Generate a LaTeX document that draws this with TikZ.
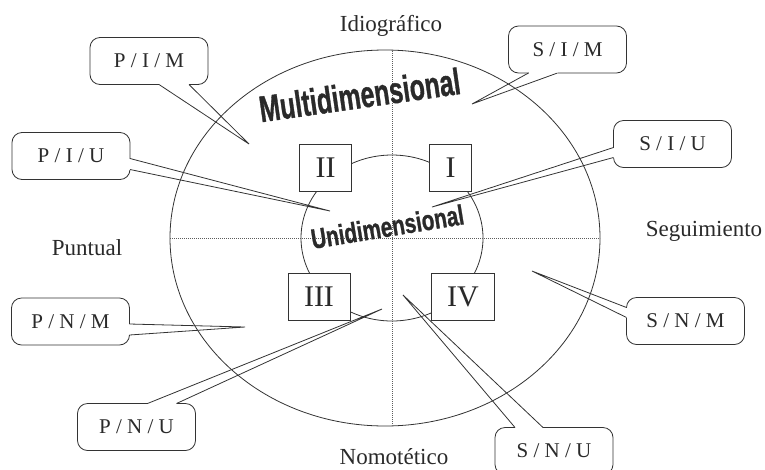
\documentclass[tikz,border=0pt]{standalone}
\usepackage{fontspec}
\setmainfont{Liberation Serif}
\newfontfamily\wordart{Liberation Sans}[BoldFeatures={FakeBold=1.2}]
\usetikzlibrary{calc}
\definecolor{qline}{HTML}{333333}
\definecolor{qtext}{HTML}{2A2A2A}

\begin{document}
\begin{tikzpicture}[x=1pt, y=-1pt,
  ring/.style={draw=qline, line width=0.8pt},
  axis/.style={draw=qline!80, line width=0.6pt, dash pattern=on 0.7pt off 1.3pt},
  bubble/.style={draw=qline, fill=white, line width=0.8pt, rounded corners=10pt, minimum width=118pt, minimum height=47pt, outer sep=0pt, text=qtext, font=\fontsize{21}{21}\selectfont},
  quad/.style={draw=qline, fill=white, line width=0.8pt, minimum height=47pt, inner xsep=16pt, outer sep=0pt, text=qtext, font=\fontsize{30}{30}\selectfont},
  pole/.style={text=qtext, anchor=base, font=\fontsize{23}{23}\selectfont},
  art/.style={text=qtext, anchor=base, inner sep=0pt},
  gap/.style={white, line width=2.5pt},
  wedge/.style={draw=qline, line width=0.8pt, line join=miter},
]
  \useasboundingbox (0,0) rectangle (765,469);

  % circles and axes
  \draw[ring] (385,238) ellipse [x radius=215pt, y radius=188pt];
  \draw[ring] (392,238) ellipse [x radius=91pt, y radius=83pt];
  \draw[axis] (170,238.5) -- (600,238.5);
  \draw[axis] (392,51) -- (392,425);

  % quadrants
  \node[quad] (q2) at (325.5,167.5) {II};
  \node[quad] (q1) at (450.5,167.5) {I};
  \node[quad] (q3) at (319,297) {III};
  \node[quad] (q4) at (463,297) {IV};

  % poles
  \node[pole] (idio) at (391,31) {Idiográfico};
  \node[pole] (nomo) at (394,464) {Nomotético};
  \node[pole] (punt) at (87,255) {Puntual};
  \node[pole] (segu) at (704,236) {Seguimiento};

  % word art
  \node[art, rotate=8.1, font=\wordart\bfseries\fontsize{37}{37}\selectfont] (multi) at (361.5,108) {\scalebox{0.67}[1]{Multidimensional}};
  \node[art, rotate=9.3, font=\wordart\bfseries\fontsize{28}{28}\selectfont] (uni) at (389,236.5) {\scalebox{0.74}[1]{Unidimensional}};

  % callouts
  \node[bubble] (pim) at (149,61) {P / I / M};
  \coordinate (pim tip) at (249,144);
  \draw[gap] ($(pim.south west)+(69,0)$) -- ($(pim.south west)+(99,0)$);
  \draw[wedge] ($(pim.south west)+(69,0)$) -- (pim tip) -- ($(pim.south west)+(99,0)$);

  \node[bubble] (piu) at (71,156) {P / I / U};
  \coordinate (piu tip) at (330,211);
  \draw[gap] ($(piu.north east)+(0,26)$) -- ($(piu.north east)+(0,37)$);
  \draw[wedge] ($(piu.north east)+(0,26)$) -- (piu tip) -- ($(piu.north east)+(0,37)$);

  \node[bubble] (sim) at (567.5,49.5) {S / I / M};
  \coordinate (sim tip) at (472,104);
  \draw[gap] ($(sim.south west)+(20,0)$) -- ($(sim.south west)+(49,0)$);
  \draw[wedge] ($(sim.south west)+(20,0)$) -- (sim tip) -- ($(sim.south west)+(49,0)$);

  \node[bubble] (siu) at (672.5,144) {S / I / U};
  \coordinate (siu tip) at (432,207);
  \draw[gap] ($(siu.north west)+(0,27)$) -- ($(siu.north west)+(0,37)$);
  \draw[wedge] ($(siu.north west)+(0,27)$) -- (siu tip) -- ($(siu.north west)+(0,37)$);

  \node[bubble] (pnm) at (70.5,321.5) {P / N / M};
  \coordinate (pnm tip) at (245,327);
  \draw[gap] ($(pnm.north east)+(0,26)$) -- ($(pnm.north east)+(0,37)$);
  \draw[wedge] ($(pnm.north east)+(0,26)$) -- (pnm tip) -- ($(pnm.north east)+(0,37)$);

  \node[bubble] (pnu) at (136.5,427) {P / N / U};
  \coordinate (pnu tip) at (382,309);
  \draw[gap] ($(pnu.north west)+(70,0)$) -- ($(pnu.north west)+(99,0)$);
  \draw[wedge] ($(pnu.north west)+(70,0)$) -- (pnu tip) -- ($(pnu.north west)+(99,0)$);

  \node[bubble] (snm) at (685.5,321) {S / N / M};
  \coordinate (snm tip) at (532,271);
  \draw[gap] ($(snm.north west)+(0,10)$) -- ($(snm.north west)+(0,20)$);
  \draw[wedge] ($(snm.north west)+(0,10)$) -- (snm tip) -- ($(snm.north west)+(0,20)$);

  \node[bubble] (snu) at (554,451) {S / N / U};
  \coordinate (snu tip) at (403,295);
  \draw[gap] ($(snu.north west)+(20,0)$) -- ($(snu.north west)+(48,0)$);
  \draw[wedge] ($(snu.north west)+(20,0)$) -- (snu tip) -- ($(snu.north west)+(48,0)$);
\end{tikzpicture}
\end{document}
